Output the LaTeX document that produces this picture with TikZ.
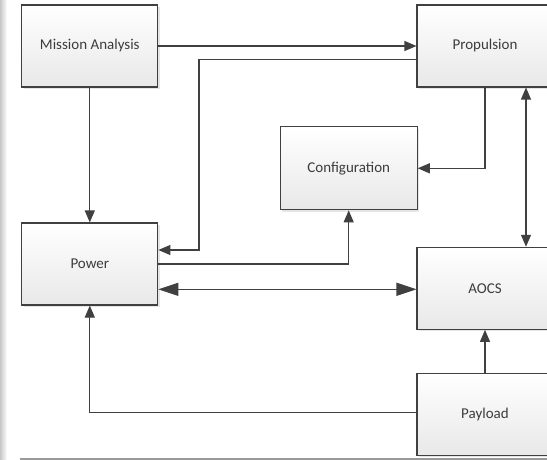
\documentclass[tikz,border=0pt]{standalone}
\usepackage{fontspec}
\setmainfont{Carlito}
\usetikzlibrary{arrows.meta,calc,shadows}
\definecolor{ln}{HTML}{404040}
\definecolor{tx}{HTML}{3C3C3C}
\tikzset{
  blk/.style={draw=ln, line width=1.1pt, rectangle, top color=white, bottom color=black!9,
    minimum width=136pt, minimum height=82pt, inner sep=0pt, text=tx,
    font=\fontsize{15}{18}\selectfont,
    drop shadow={shadow xshift=2pt, shadow yshift=-2pt, opacity=0.25, fill=black!40}},
  con/.style={draw=ln, line width=1.1pt, -{Triangle[length=12pt,width=10pt]}},
  bicon/.style={draw=ln, line width=1.1pt, {Triangle[length=12pt,width=10pt]}-{Triangle[length=12pt,width=10pt]}},
  bigcon/.style={draw=ln, line width=1.1pt, {Triangle[length=20pt,width=13pt]}-{Triangle[length=20pt,width=13pt]}},
}
\begin{document}
\begin{tikzpicture}[x=1pt,y=-1pt]
\useasboundingbox (0,0) rectangle (547,460);
\fill[white] (0,0) rectangle (547,460);
\shade[left color=black!22, right color=white] (0,0) rectangle (7,460);
\draw[black!40, line width=1.5pt] (20,459) -- (547,459);
\begin{scope}
\clip (0,0) rectangle (547,460);
\node[blk] (ma) at (89.8,46) {Mission Analysis};
\node[blk] (prop) at (485,46) {Propulsion};
\node[blk, minimum width=137pt, minimum height=83pt] (conf) at (348.7,168.3) {Configuration};
\node[blk] (pow) at (89.8,264) {Power};
\node[blk] (aocs) at (485,288.3) {AOCS};
\node[blk] (pay) at (485,414.3) {Payload};
\end{scope}
\draw[con] (ma) -- (prop);
\draw[con] ($(prop.west)+(0,13.3)$) -| ($(conf.north west)+(-80.7,0)$) |- ($(pow.east)+(0,-14)$);
\draw[con] (ma) -- (pow);
\draw[con] (pow.east) -| (conf.south);
\draw[bigcon] ($(pow.east)+(0,25.3)$) -- ($(aocs.west)+(0,1)$);
\draw[con] (prop.south) |- (conf.east);
\draw[bicon] ($(prop.south)+(41,0)$) -- ($(aocs.north)+(41,0)$);
\draw[con] (pay) -- (aocs);
\draw[con] ($(pay.west)+(0,-1.6)$) -| (pow.south);
\end{tikzpicture}
\end{document}
